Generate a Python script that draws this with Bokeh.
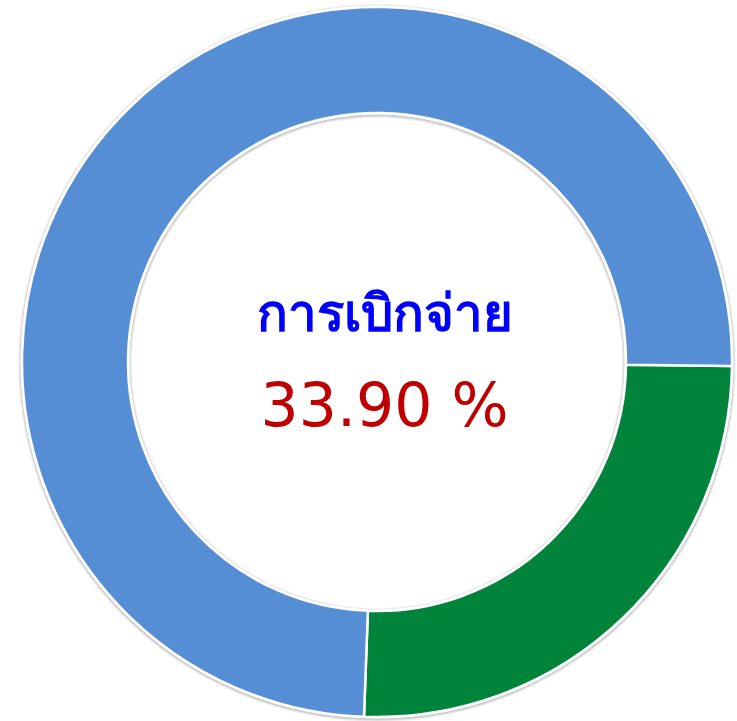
import math
from bokeh.plotting import figure
from bokeh.models import ColumnDataSource
from bokeh.core.properties import value
from bokeh.embed import file_html
from bokeh.resources import INLINE

# Data
categories = ["เบิกจ่ายแล้ว", "คงเหลือ"]
values = [25.4, 74.6]
colors = ["#00843C", "#558ED5"]
title_text = "การเบิกจ่าย"
percent_text = "33.90 %"

W, H = 737, 721
cx, cy = 376.5, H - 361.5
r_out, r_in = 355, 249
start_deg = -92.1

total = sum(values)
starts, ends = [], []
a = math.radians(start_deg)
for v in values:
    span = v / total * 2 * math.pi
    starts.append(a)
    ends.append(a + span)
    a += span

src = ColumnDataSource(dict(cat=categories, val=values, start=starts, end=ends, color=colors,
                            x=[cx] * len(values), y=[cy] * len(values)))

p = figure(width=W, height=H, x_range=(0, W), y_range=(0, H), output_backend="svg",
           toolbar_location=None, min_border=0, outline_line_color=None)
p.axis.visible = False
p.grid.visible = False
p.background_fill_color = "white"
p.border_fill_color = "white"

# soft shadows
for k, al in [(4, 0.05), (3, 0.07), (2, 0.09)]:
    p.annulus(x=cx, y=cy - 1, inner_radius=r_out, outer_radius=r_out + k, fill_color="#000000",
              fill_alpha=al, line_color=None)
    p.annulus(x=cx, y=cy - 1, inner_radius=r_in - k, outer_radius=r_in, fill_color="#000000",
              fill_alpha=al, line_color=None)
p.annulus(x=cx, y=cy, inner_radius=r_in - 1.5, outer_radius=r_out + 1.5, fill_color="white",
          line_color=None)

p.annular_wedge(x="x", y="y", inner_radius=r_in, outer_radius=r_out, start_angle="start",
                end_angle="end", fill_color="color", line_color="white", line_width=2.5, source=src)

p.text(x=[384], y=[H - 310], text=[title_text], text_align="center", text_baseline="middle",
       text_font=value("Noto Sans"), text_font_style="bold", text_font_size="51px",
       text_color="#0000FF")
p.text(x=[384], y=[H - 404], text=[percent_text], text_align="center", text_baseline="middle",
       text_font=value("DejaVu Sans"), text_font_size="60px", text_color="#C00000")

open("out.html", "w").write(file_html(p, INLINE))
